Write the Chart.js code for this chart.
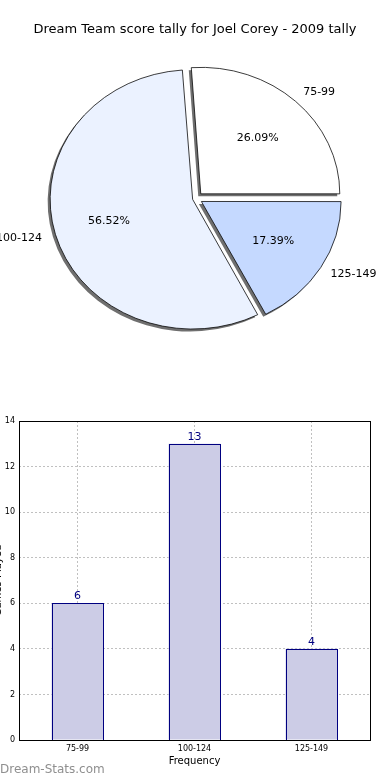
<!DOCTYPE html>
<html>
<head>
<meta charset="utf-8">
<script src="https://cdn.jsdelivr.net/npm/chart.js@4.4.0/dist/chart.umd.min.js"></script>
<style>
  body { margin: 0; width: 390px; height: 780px; overflow: hidden; background: #fff; position: relative; }
  #pieBox { position: absolute; left: 0; top: 0; width: 390px; height: 390px; }
  #barBox { position: absolute; left: 0; top: 390px; width: 390px; height: 390px; }
  #mark { position: absolute; left: 0; top: 762px; font: 12px "DejaVu Sans", sans-serif; color: #8f8f8f; }
</style>
</head>
<body>
<div id="pieBox"><canvas id="pieChart"></canvas></div>
<div id="barBox"><canvas id="barChart"></canvas></div>
<div id="mark">Dream-Stats.com</div>
<script>
const chartTitle = 'Dream Team score tally for Joel Corey - 2009 tally';
const scoreBands = ['75-99', '100-124', '125-149'];
const tally = [6, 13, 4];
const pieOrder = [0, 2, 1]; // clockwise order, same as matplotlib counter-clockwise
const yMin = 0, yMax = 14, yStep = 2;

Chart.defaults.font.family = '"DejaVu Sans", sans-serif';
Chart.defaults.color = '#000';

const total = tally.reduce((a, b) => a + b, 0);
const pieLabels = pieOrder.map(i => scoreBands[i]);
const pieValues = pieOrder.map(i => tally[i]);
const pieColours = ['#ffffff', '#c5d9ff', '#ebf2ff'];

const squash = 0.91;   // matplotlib pie is an ellipse here
const explode = 7;     // px pushed out along the middle of the slice

// chart.js arc divides the offset, undo that so every slice moves ~explode px
function arcOffset(ctx) {
  const circ = pieValues[ctx.dataIndex] / total * Math.PI * 2;
  const fix = 1 - Math.sin(Math.min(Math.PI, circ));
  return explode * 4 / (1 + fix);
}

let plainStroke = null;

const pieLook = {
  id: 'pieLook',
  beforeDatasetsDraw(chart) {
    const a = chart.getDatasetMeta(0).data[0];
    const ctx = chart.ctx;
    ctx.save();
    ctx.translate(a.x, a.y);
    ctx.scale(1, squash);
    ctx.translate(-a.x, -a.y);
    ctx.shadowColor = 'rgba(95,95,95,0.9)';
    ctx.shadowOffsetX = -2.5;
    ctx.shadowOffsetY = 2.5;
    ctx.shadowBlur = 0;
    // only the fills cast a shadow, not the outlines
    plainStroke = ctx.stroke;
    ctx.stroke = function () {
      const c = this.shadowColor;
      this.shadowColor = 'rgba(0,0,0,0)';
      plainStroke.apply(this, arguments);
      this.shadowColor = c;
    };
  },
  afterDatasetsDraw(chart) {
    const ctx = chart.ctx;
    ctx.stroke = plainStroke;
    delete ctx.stroke;
    ctx.restore();
    ctx.save();
    ctx.fillStyle = '#000';
    ctx.textBaseline = 'middle';
    ctx.font = '11px "DejaVu Sans"';
    chart.getDatasetMeta(0).data.forEach((a, i) => {
      const mid = (a.startAngle + a.endAngle) / 2;
      const ux = Math.cos(mid), uy = Math.sin(mid) * squash;
      const pr = explode + 0.6 * a.outerRadius;
      const lr = explode + 1.1 * a.outerRadius;
      const pct = (pieValues[i] / total * 100).toFixed(2) + '%';
      ctx.textAlign = 'center';
      ctx.fillText(pct, a.x + ux * pr, a.y + uy * pr);
      ctx.textAlign = ux > 0 ? 'left' : 'right';
      ctx.fillText(pieLabels[i], a.x + ux * lr - (ux > 0 ? 2 : 0), a.y + uy * lr);
    });
    ctx.font = '13px "DejaVu Sans"';
    ctx.textAlign = 'center';
    ctx.fillText(chartTitle, 195, 30);
    ctx.restore();
  }
};

new Chart(document.getElementById('pieChart'), {
  type: 'pie',
  data: {
    labels: pieLabels,
    datasets: [{
      data: pieValues,
      backgroundColor: pieColours,
      borderColor: '#000',
      borderWidth: 0.8,
      offset: arcOffset,
      hoverOffset: 0
    }]
  },
  options: {
    responsive: true,
    maintainAspectRatio: false,
    animation: false,
    radius: 139,
    rotation: 90 - 360 * tally[0] / total,
    layout: { padding: { left: 2, top: 7, right: 0, bottom: 0 } },
    plugins: { legend: { display: false }, tooltip: { enabled: false } }
  },
  plugins: [pieLook]
});

const barLook = {
  id: 'barLook',
  afterDatasetsDraw(chart) {
    const ctx = chart.ctx;
    const ca = chart.chartArea;
    ctx.save();
    ctx.lineWidth = 1;
    // crisp navy outline round each bar, taken from the bar elements
    ctx.strokeStyle = '#000080';
    chart.getDatasetMeta(0).data.forEach(b => {
      const x0 = Math.round(b.x - b.width / 2) + 0.5;
      const x1 = Math.round(b.x + b.width / 2) + 0.5;
      const y0 = Math.round(b.y) + 0.5;
      const y1 = Math.round(b.base) + 0.5;
      ctx.strokeRect(x0, y0, x1 - x0, y1 - y0);
    });
    ctx.strokeStyle = '#000';
    ctx.strokeRect(Math.round(ca.left) + 0.5, Math.round(ca.top) + 0.5, Math.round(ca.width), Math.round(ca.height));
    ctx.fillStyle = '#000080';
    ctx.font = '11px "DejaVu Sans"';
    ctx.textAlign = 'center';
    ctx.textBaseline = 'middle';
    chart.getDatasetMeta(0).data.forEach((b, i) => {
      ctx.fillText(String(tally[i]), b.x, b.y - 7);
    });
    ctx.fillStyle = '#000';
    ctx.font = '10px "DejaVu Sans"';
    ctx.translate(-2, (ca.top + ca.bottom) / 2);
    ctx.rotate(-Math.PI / 2);
    ctx.fillText('Games Played', 0, 0);
    ctx.restore();
  }
};

new Chart(document.getElementById('barChart'), {
  type: 'bar',
  data: {
    labels: scoreBands,
    datasets: [{
      data: tally,
      backgroundColor: '#ccccE6',
      borderWidth: 0,
      barPercentage: 0.444,
      categoryPercentage: 1
    }]
  },
  options: {
    responsive: true,
    maintainAspectRatio: false,
    animation: false,
    layout: { padding: { top: 31, right: 20, left: 0, bottom: 0 } },
    plugins: { legend: { display: false }, tooltip: { enabled: false } },
    scales: {
      x: {
        grid: { offset: false, color: '#c0c0c0', drawTicks: false },
        border: { display: false, dash: [2, 2] },
        ticks: { font: { size: 8 }, padding: 4 },
        title: { display: true, text: 'Frequency', font: { size: 10 }, padding: { top: 0, bottom: 13 } },
        afterFit(s) { s.height = 40; }
      },
      y: {
        min: yMin,
        max: yMax,
        grid: { color: '#c0c0c0', drawTicks: false },
        border: { display: false, dash: [2, 2] },
        ticks: { stepSize: yStep, font: { size: 8 }, padding: 4 },
        afterFit(s) { s.width = 19; }
      }
    }
  },
  plugins: [barLook]
});
</script>
</body>
</html>
